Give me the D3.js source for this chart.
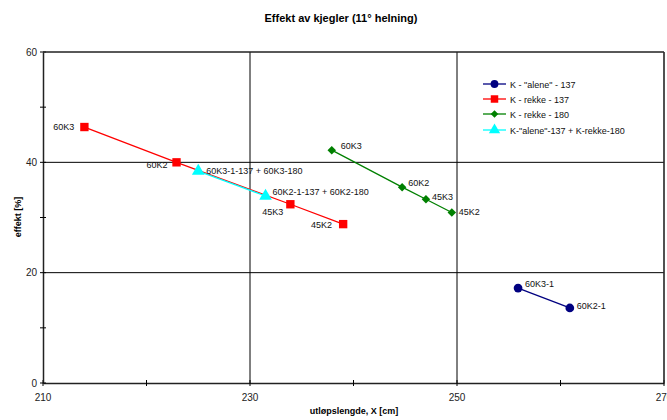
<!DOCTYPE html>
<html><head><meta charset="utf-8">
<script src="https://cdn.jsdelivr.net/npm/d3@7"></script>
<style>body{margin:0;background:#fff;font-family:Arial,"Liberation Sans",sans-serif;}</style>
</head><body><svg id="c" width="667" height="420"></svg>
<script>
const xTicks = [210, 230, 250, 270];
const yTicks = [0, 20, 40, 60];
const seriesNames = ['K - "alene" - 137', 'K - rekke - 137', 'K - rekke - 180', 'K-"alene"-137 + K-rekke-180'];
const aloneX = [255.9, 260.9];
const aloneY = [17.2, 13.6];
const aloneLabels = ["60K3-1", "60K2-1"];
const rekke137X = [214.0, 222.9, 233.9, 239.0];
const rekke137Y = [46.4, 40.0, 32.4, 28.8];
const rekke137Labels = ["60K3", "60K2", "45K3", "45K2"];
const rekke180X = [237.9, 244.7, 247.0, 249.5];
const rekke180Y = [42.2, 35.5, 33.3, 30.9];
const rekke180Labels = ["60K3", "60K2", "45K3", "45K2"];
const comboX = [225.0, 231.5];
const comboY = [38.4, 33.9];
const comboLabels = ["60K3-1-137 + 60K3-180", "60K2-1-137 + 60K2-180"];

const svg = d3.select("#c");
const L = 43, R = 664, T = 52, B = 383;
const x = d3.scaleLinear().domain([210, 270]).range([L, R]);
const y = d3.scaleLinear().domain([0, 60]).range([B, T]);

// title
svg.append("text").attr("x", 341).attr("y", 22).attr("text-anchor", "middle")
  .attr("font-size", 11).attr("font-weight", "bold").text("Effekt av kjegler (11° helning)");

// gridlines
const g = svg.append("g");
g.selectAll(".gx").data(xTicks.slice(1)).enter().append("line")
  .attr("x1", d => x(d)).attr("x2", d => x(d)).attr("y1", T).attr("y2", B)
  .attr("stroke", "#000").attr("stroke-width", 1);
g.selectAll(".gy").data(yTicks.slice(1)).enter().append("line")
  .attr("x1", L).attr("x2", R).attr("y1", d => y(d)).attr("y2", d => y(d))
  .attr("stroke", "#000").attr("stroke-width", 1);

// axes
const xAxis = d3.axisBottom(x).tickValues(d3.range(210, 271, 10)).tickSize(0).tickFormat("");
const xa = svg.append("g").attr("transform", `translate(0,${B})`).call(xAxis);
xa.select(".domain").attr("stroke", "#222").attr("stroke-width", 1.5);
svg.append("g").selectAll("line").data(d3.range(210, 271, 10)).enter().append("line")
  .attr("x1", d => x(d)).attr("x2", d => x(d)).attr("y1", B - 3).attr("y2", B + 3)
  .attr("stroke", "#000");
svg.append("g").selectAll("text").data(xTicks).enter().append("text")
  .attr("x", d => x(d)).attr("y", B + 18).attr("text-anchor", "middle")
  .attr("font-size", 10).attr("fill", "#222").text(d => d);

const yAxis = d3.axisLeft(y).tickValues(d3.range(0, 61, 10)).tickSize(0).tickFormat("");
const ya = svg.append("g").attr("transform", `translate(${L},0)`).call(yAxis);
ya.select(".domain").attr("stroke", "#222").attr("stroke-width", 1.5);
svg.append("g").selectAll("line").data(d3.range(0, 61, 10)).enter().append("line")
  .attr("x1", L - 3).attr("x2", L + 3).attr("y1", d => y(d)).attr("y2", d => y(d))
  .attr("stroke", "#000");
svg.append("g").selectAll("text").data(yTicks).enter().append("text")
  .attr("x", L - 6).attr("y", d => y(d) + 3.5).attr("text-anchor", "end")
  .attr("font-size", 10).attr("fill", "#222").text(d => d);

// border top/right
svg.append("line").attr("x1", L).attr("x2", R).attr("y1", T).attr("y2", T).attr("stroke", "#333").attr("stroke-width", 1.2);
svg.append("line").attr("x1", R).attr("x2", R).attr("y1", T).attr("y2", B).attr("stroke", "#333").attr("stroke-width", 1.2);

// axis titles
svg.append("text").attr("x", 354).attr("y", 414).attr("text-anchor", "middle")
  .attr("font-size", 9).attr("font-weight", "bold").text("utløpslengde, X [cm]");
svg.append("text").attr("transform", "translate(21,217) rotate(-90)").attr("text-anchor", "middle")
  .attr("font-size", 9).attr("font-weight", "bold").text("effekt [%]");

const colors = ["#000080", "#FF0000", "#008000", "#00FFFF"];
const symbols = [d3.symbolCircle, d3.symbolSquare, d3.symbolSquare, d3.symbolTriangle];
const symSizes = [60, 70, 36, 70];
const symRot = [0, 0, 45, 0];

function drawSeries(xs, ys, labels, i, labelPos) {
  const pts = xs.map((v, k) => [x(v), y(ys[k])]);
  svg.append("path").attr("d", d3.line()(pts)).attr("fill", "none")
    .attr("stroke", colors[i]).attr("stroke-width", 1.3);
  svg.append("g").selectAll("path").data(pts).enter().append("path")
    .attr("transform", d => `translate(${d[0]},${d[1]}) rotate(${symRot[i]})`)
    .attr("d", d3.symbol().type(symbols[i]).size(symSizes[i]))
    .attr("fill", colors[i]);
  svg.append("g").selectAll("text").data(pts).enter().append("text")
    .attr("x", (d, k) => d[0] + labelPos[k][0]).attr("y", (d, k) => d[1] + labelPos[k][1])
    .attr("text-anchor", (d, k) => labelPos[k][2] || "start")
    .attr("font-size", 9).attr("fill", "#111").text((d, k) => labels[k]);
}

drawSeries(rekke137X, rekke137Y, rekke137Labels, 1, [[-10, 3, "end"], [-9, 6, "end"], [-7, 11, "end"], [-11, 4, "end"]]);
drawSeries(rekke180X, rekke180Y, rekke180Labels, 2, [[9, -1], [6, -1], [6, 1], [7, 2]]);
drawSeries(comboX, comboY, comboLabels, 3, [[8, 3], [7, -1]]);
drawSeries(aloneX, aloneY, aloneLabels, 0, [[7, -1], [7, 1]]);

// legend
const lg = svg.append("g");
const rowsY = [84, 99, 114, 130];
seriesNames.forEach((n, i) => {
  lg.append("line").attr("x1", 483).attr("x2", 506).attr("y1", rowsY[i]).attr("y2", rowsY[i])
    .attr("stroke", colors[i]).attr("stroke-width", 1.3);
  lg.append("path").attr("transform", `translate(494.5,${rowsY[i]}) rotate(${symRot[i]})`)
    .attr("d", d3.symbol().type(symbols[i]).size(symSizes[i] * 0.8)).attr("fill", colors[i]);
  lg.append("text").attr("x", 510).attr("y", rowsY[i] + 3.5).attr("font-size", 9)
    .attr("fill", "#111").text(n);
});
</script></body></html>
